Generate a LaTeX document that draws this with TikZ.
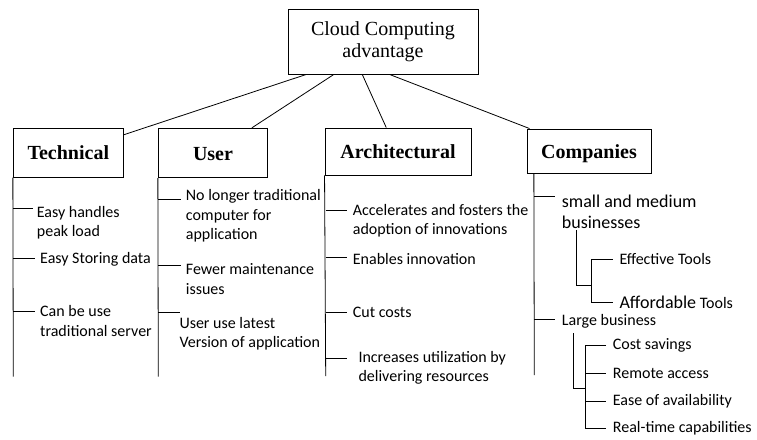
\documentclass[tikz,border=0pt]{standalone}
\usepackage{fontspec}
\setmainfont{Liberation Serif}
\newfontfamily\bodyfont{Carlito}
\begin{document}
\begin{tikzpicture}[x=1pt,y=-1pt,
  box/.style={draw,line width=0.9pt,inner sep=0pt,font=\fontsize{20}{22}\selectfont},
  head/.style={box,font=\fontsize{20}{22}\selectfont\bfseries,text height=16pt,text depth=2pt},
  txt/.style={anchor=west,inner sep=0pt,align=left,font=\bodyfont\fontsize{16}{19.5}\selectfont},
  big/.style={txt,font=\bodyfont\fontsize{18}{21.5}\selectfont},
  ln/.style={line width=0.8pt}]
\useasboundingbox (0,0) rectangle (757,439);
% boxes
\node[box,minimum width=190pt,minimum height=65pt,align=center] (top) at (383,41.5) {Cloud Computing\\advantage};
\node[head,minimum width=110pt,minimum height=49pt] (tech) at (68.3,152.7) {Technical};
\node[head,minimum width=109.4pt,minimum height=49.4pt] (user) at (213,153) {User};
\node[head,minimum width=146pt,minimum height=47pt] (arch) at (398,151.5) {Architectural};
\node[head,minimum width=124pt,minimum height=44pt] (comp) at (589,151) {Companies};
% connectors from top
\draw[ln] ([xshift=18.7pt]top.south west) -- ([yshift=-7pt]tech.north east);
\draw[ln] ([xshift=46.3pt]top.south west) -- ([xshift=94pt]user.north west);
\draw[ln] ([xshift=74.7pt]top.south west) -- ([xshift=61.7pt]arch.north west);
\draw[ln] ([xshift=102pt]top.south west) -- ([xshift=3pt]comp.north west);
% spines
\coordinate (tend) at (13.3,376.7);
\coordinate (uend) at (158.3,376.7);
\coordinate (aend) at (325.7,376);
\coordinate (cend) at (534.3,375);
\draw[ln] (tech.south west) -- (tend);
\draw[ln] (user.south west) -- (uend);
\draw[ln] (arch.south west) -- (aend);
\draw[ln] ([xshift=7.3pt]comp.south west) -- (cend);
% Technical texts
\node[txt] (t1) at (36.7,222.7) {Easy handles\\peak load};
\node[txt] (t2) at (40,259.3) {Easy Storing data};
\node[txt] (t3) at (40,321) {Can be use\\traditional server};
\draw[ln] (13.3,208.3) -- (33.3,208.3);
\draw[ln] (13.3,258.3) -- (35,258.3);
\draw[ln] (13.3,311) -- (35,311);
% User texts
\node[txt] (u1) at (185.7,216) {No longer traditional\\computer for\\application};
\node[txt] (u2) at (185.7,279) {Fewer maintenance\\issues};
\node[txt] (u3) at (179.3,333.7) {User use latest\\Version of application};
\draw[ln] (158.3,199.3) -- (181,199.3);
\draw[ln] (158.3,265) -- (181,265);
\draw[ln] (158.3,312.3) -- (180,312.3);
% Architectural texts
\node[txt] (a1) at (352.7,220.7) {Accelerates and fosters the\\adoption of innovations};
\node[txt] (a2) at (352.7,259) {Enables innovation};
\node[txt] (a3) at (352.7,312) {Cut costs};
\node[txt] (a4) at (358.3,368) {Increases utilization by\\delivering resources};
\draw[ln] (325.7,210) -- (346.7,210);
\draw[ln] (325.7,257.7) -- (346.7,257.7);
\draw[ln] (325.7,312.3) -- (346.7,312.3);
\draw[ln] (325.7,358.3) -- (346.7,358.3);
% Companies texts
\node[big] (c1) at (561.7,212) {small and medium\\businesses};
\node[txt] (c2) at (619.3,259.3) {Effective Tools};
\node[txt] (c3) at (619.3,302.7) {{\fontsize{18}{21.5}\selectfont Affordable} Tools};
\node[txt] (c4) at (561.7,321.7) {Large business};
\node[txt] (c5) at (612.7,345.7) {Cost savings};
\node[txt] (c6) at (612.7,373.3) {Remote access};
\node[txt] (c7) at (612.7,401.7) {Ease of availability};
\node[txt] (c8) at (612.7,428.3) {Real-time capabilities};
\draw[ln] (534.3,196.7) -- (555,196.7);
\draw[ln] (534.3,319) -- (555,319);
% small/medium subtree
\draw[ln] (576,230) -- (576,285) -- (591.7,285);
\draw[ln] (612.7,259.3) -- (591.7,259.3) -- (591.7,302.7) -- (612.7,302.7);
% large subtree
\draw[ln] (573.3,333.3) -- (573.3,388.3) -- (585.7,388.3);
\draw[ln] (606,345.7) -- (585.7,345.7) -- (585.7,428.3) -- (606,428.3);
\draw[ln] (585.7,373.3) -- (606,373.3);
\draw[ln] (585.7,401.7) -- (606,401.7);
\end{tikzpicture}
\end{document}
